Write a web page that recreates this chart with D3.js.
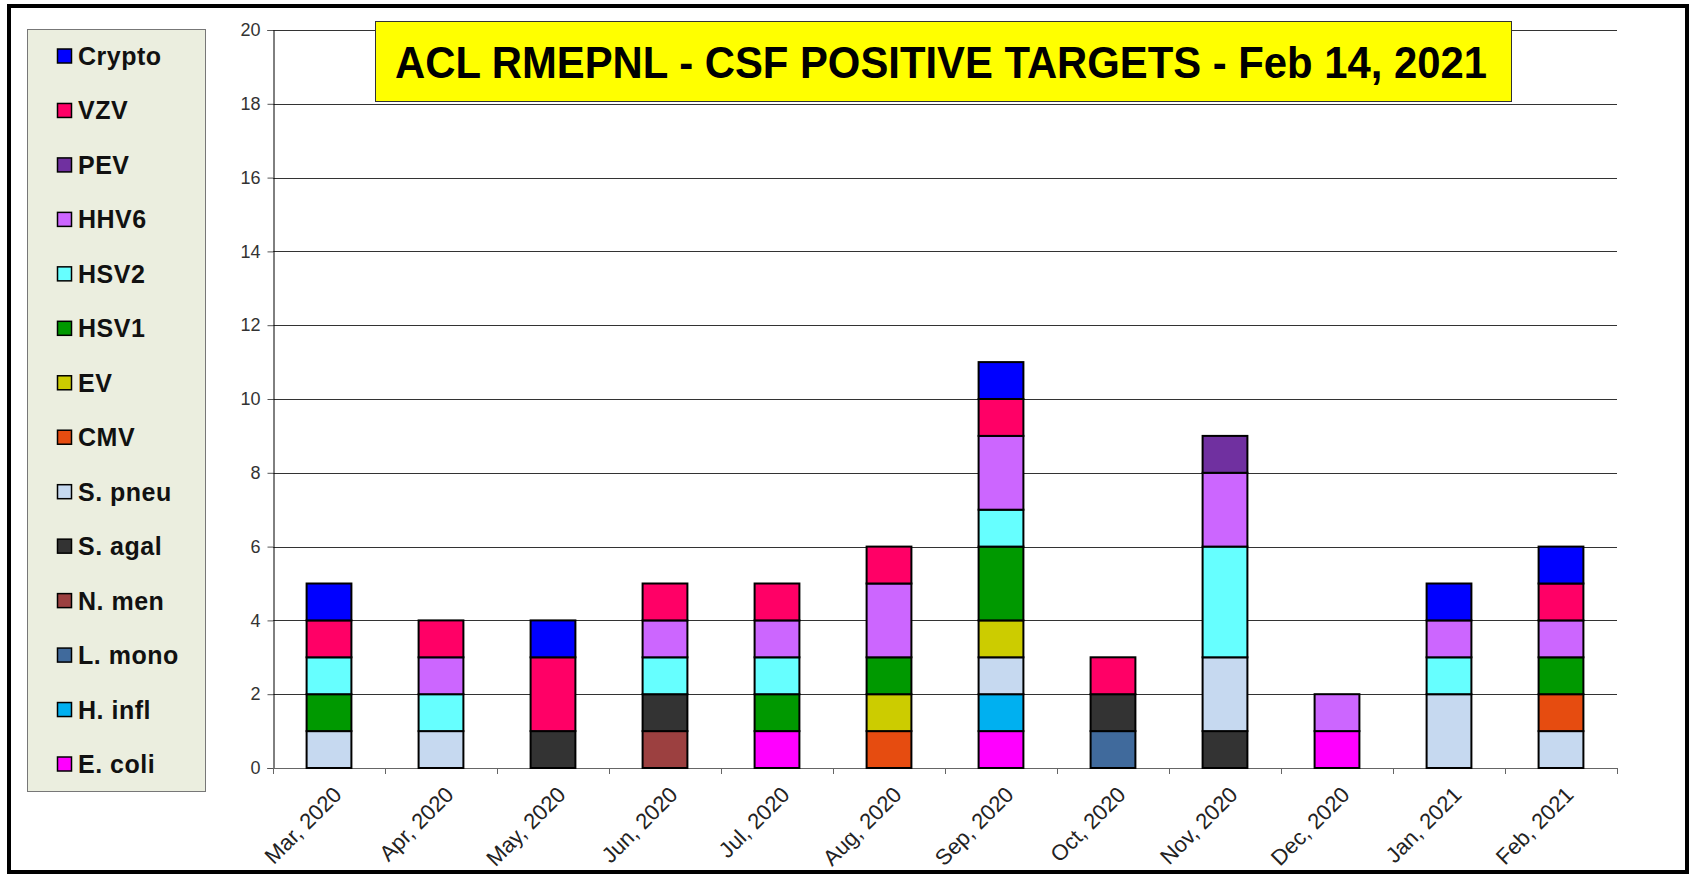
<!DOCTYPE html>
<html>
<head>
<meta charset="utf-8">
<script src="https://cdn.jsdelivr.net/npm/d3@7"></script>
<style>
  body { margin: 0; background: #fff; }
  svg { display: block; font-family: Arial, "Liberation Sans", sans-serif; }
</style>
</head>
<body>
<svg id="chart"></svg>
<script>
// месяцы
let months = ["Mar, 2020", "Apr, 2020", "May, 2020", "Jun, 2020", "Jul, 2020", "Aug, 2020",
    "Sep, 2020", "Oct, 2020", "Nov, 2020", "Dec, 2020", "Jan, 2021", "Feb, 2021"];

// серии снизу вверх
let targets = ["E. coli", "H. infl", "L. mono", "N. men", "S. agal", "S. pneu", "CMV",
    "EV", "HSV1", "HSV2", "HHV6", "PEV", "VZV", "Crypto"];

let colors = ["#ff00ff", "#00b0f0", "#406a9c", "#9c4040", "#333333", "#c6d9f0", "#e64c10",
    "#cccc00", "#009900", "#66ffff", "#cc66ff", "#7030a0", "#ff0066", "#0000ff"];

let eColi  = [0, 0, 0, 0, 1, 0, 1, 0, 0, 1, 0, 0];
let hInfl  = [0, 0, 0, 0, 0, 0, 1, 0, 0, 0, 0, 0];
let lMono  = [0, 0, 0, 0, 0, 0, 0, 1, 0, 0, 0, 0];
let nMen   = [0, 0, 0, 1, 0, 0, 0, 0, 0, 0, 0, 0];
let sAgal  = [0, 0, 1, 1, 0, 0, 0, 1, 1, 0, 0, 0];
let sPneu  = [1, 1, 0, 0, 0, 0, 1, 0, 2, 0, 2, 1];
let cmv    = [0, 0, 0, 0, 0, 1, 0, 0, 0, 0, 0, 1];
let ev     = [0, 0, 0, 0, 0, 1, 1, 0, 0, 0, 0, 0];
let hsv1   = [1, 0, 0, 0, 1, 1, 2, 0, 0, 0, 0, 1];
let hsv2   = [1, 1, 0, 1, 1, 0, 1, 0, 3, 0, 1, 0];
let hhv6   = [0, 1, 0, 1, 1, 2, 2, 0, 2, 1, 1, 1];
let pev    = [0, 0, 0, 0, 0, 0, 0, 0, 1, 0, 0, 0];
let vzv    = [1, 1, 2, 1, 1, 1, 1, 1, 0, 0, 0, 1];
let crypto = [1, 0, 1, 0, 0, 0, 1, 0, 0, 0, 1, 1];

let yTicks = [0, 2, 4, 6, 8, 10, 12, 14, 16, 18, 20];

let seriesValues = [eColi, hInfl, lMono, nMen, sAgal, sPneu, cmv, ev, hsv1, hsv2, hhv6, pev, vzv, crypto];

// таблица для d3.stack
let table = months.map(function(m, i) {
    let row = { month: m };
    targets.forEach(function(t, j) { row[t] = seriesValues[j][i]; });
    return row;
});

let width = 1689;
let height = 874;

let svg = d3.select("#chart")
    .attr("width", width)
    .attr("height", height);

// внешняя рамка
svg.append("rect")
    .attr("x", 9).attr("y", 6)
    .attr("width", 1678).attr("height", 866)
    .attr("fill", "#fff")
    .attr("stroke", "#000")
    .attr("stroke-width", 4);

let plotLeft = 273, plotRight = 1617, plotTop = 30, plotBottom = 768;

let scaleX = d3.scaleBand()
    .domain(months)
    .range([plotLeft, plotRight])
    .paddingInner(0.6)
    .paddingOuter(0.3);

let scaleY = d3.scaleLinear()
    .domain([0, 20])
    .range([plotBottom, plotTop]);

// горизонтальные линии сетки
svg.append("g")
    .selectAll("line")
    .data(yTicks.filter(d => d > 0))
    .enter()
    .append("line")
    .attr("x1", plotLeft)
    .attr("x2", plotRight)
    .attr("y1", d => Math.round(scaleY(d)) + 0.5)
    .attr("y2", d => Math.round(scaleY(d)) + 0.5)
    .attr("stroke", "#333")
    .attr("stroke-width", 1.2);

// ось OY
let axisY = d3.axisLeft(scaleY).tickValues(yTicks).tickSize(6).tickPadding(7);
let gY = svg.append("g")
    .attr("transform", `translate(${plotLeft + 0.5}, 0)`)
    .call(axisY);
gY.select(".domain").attr("stroke", "#000");
gY.selectAll(".tick line").attr("stroke", "#555");
gY.selectAll("text")
    .attr("font-size", 18)
    .attr("fill", "#333")
    .attr("font-family", "Arial, 'Liberation Sans', sans-serif");

// ось OX - линия и засечки на границах
let xTickPos = d3.range(months.length + 1).map(i => plotLeft + i * (plotRight - plotLeft) / months.length);
svg.append("line")
    .attr("x1", plotLeft).attr("x2", plotRight)
    .attr("y1", plotBottom + 0.5).attr("y2", plotBottom + 0.5)
    .attr("stroke", "#666").attr("stroke-width", 1.2);
svg.append("g")
    .selectAll("line")
    .data(xTickPos)
    .enter()
    .append("line")
    .attr("x1", d => Math.round(d) + 0.5)
    .attr("x2", d => Math.round(d) + 0.5)
    .attr("y1", plotBottom)
    .attr("y2", plotBottom + 6)
    .attr("stroke", "#666");

// подписи месяцев
svg.append("g")
    .selectAll("text")
    .data(months)
    .enter()
    .append("text")
    .attr("transform", d => `translate(${scaleX(d) + scaleX.bandwidth() / 2 + 14}, 796) rotate(-45)`)
    .attr("text-anchor", "end")
    .attr("font-size", 22)
    .attr("fill", "#222")
    .text(d => d);

// столбики
let stacked = d3.stack().keys(targets)(table);

svg.append("g")
    .selectAll("g")
    .data(stacked)
    .enter()
    .append("g")
    .attr("fill", (d, i) => colors[i])
    .selectAll("rect")
    .data(d => d.filter(p => p[1] - p[0] > 0))
    .enter()
    .append("rect")
    .attr("x", d => scaleX(d.data.month))
    .attr("width", scaleX.bandwidth())
    .attr("y", d => scaleY(d[1]))
    .attr("height", d => scaleY(d[0]) - scaleY(d[1]))
    .attr("stroke", "#000")
    .attr("stroke-width", 2);

// легенда
svg.append("rect")
    .attr("x", 27.5).attr("y", 29.5)
    .attr("width", 178).attr("height", 762)
    .attr("fill", "#ebeedf")
    .attr("stroke", "#777")
    .attr("stroke-width", 1);

let legendOrder = targets.slice().reverse();
let legendColors = colors.slice().reverse();
let legendY = d3.scalePoint().domain(legendOrder).range([56, 764]);

let leg = svg.append("g")
    .selectAll("g")
    .data(legendOrder)
    .enter()
    .append("g")
    .attr("transform", d => `translate(0, ${legendY(d)})`);
leg.append("rect")
    .attr("x", 57.5).attr("y", -7)
    .attr("width", 14).attr("height", 14)
    .attr("fill", (d, i) => legendColors[i])
    .attr("stroke", "#000")
    .attr("stroke-width", 1.5);
leg.append("text")
    .attr("x", 78).attr("y", 9)
    .attr("font-size", 25)
    .attr("font-weight", "bold")
    .attr("letter-spacing", 0.5)
    .attr("fill", "#111")
    .text(d => d);

// заголовок
svg.append("rect")
    .attr("x", 375.5).attr("y", 21.5)
    .attr("width", 1136).attr("height", 80)
    .attr("fill", "#ffff00")
    .attr("stroke", "#333")
    .attr("stroke-width", 1);
svg.append("text")
    .attr("x", 395).attr("y", 78)
    .attr("font-size", 44)
    .attr("font-weight", "bold")
    .attr("textLength", 1092)
    .attr("lengthAdjust", "spacingAndGlyphs")
    .attr("fill", "#000")
    .text("ACL RMEPNL - CSF POSITIVE TARGETS - Feb 14, 2021");
</script>
</body>
</html>
